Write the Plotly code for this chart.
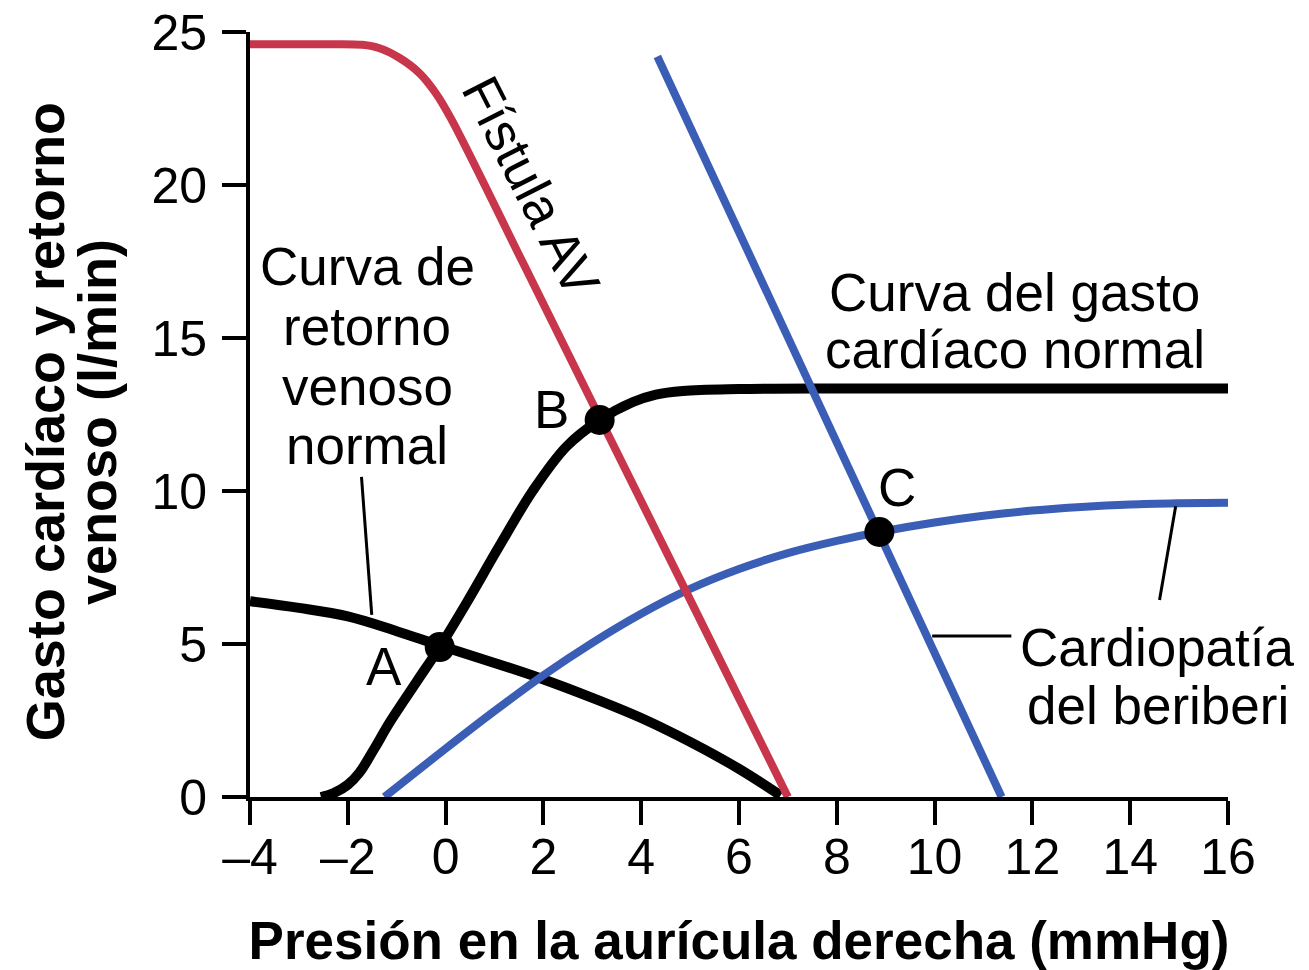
import plotly.graph_objects as go

# ---------------- data ----------------
x_ticks = [-4, -2, 0, 2, 4, 6, 8, 10, 12, 14, 16]
x_ticktext = ["–4", "–2", "0", "2", "4", "6", "8", "10", "12", "14", "16"]
y_ticks = [0, 5, 10, 15, 20, 25]

# Normal venous return curve
vr_norm_x = [-4, -3, -2, -1, -0.12, 1, 1.92, 3, 4, 5, 6, 6.85]
vr_norm_y = [6.4, 6.18, 5.9, 5.42, 4.95, 4.38, 3.89, 3.24, 2.58, 1.8, 0.92, 0.05]

# Normal cardiac output curve
co_norm_x = [-2.55, -2.3, -2.0, -1.76, -1.45, -1.15, -0.6, -0.12, 0.43, 1.1, 1.78,
             2.47, 3.15, 3.82, 4.3, 4.85, 6, 8, 12, 16]
co_norm_y = [0.0, 0.12, 0.4, 0.8, 1.6, 2.42, 3.75, 4.9, 6.35, 8.2, 10.0,
             11.45, 12.32, 12.9, 13.15, 13.27, 13.33, 13.35, 13.35, 13.35]

# AV fistula venous return curve
av_x = [-4, -2.5, -1.7, -1.35, -0.94, -0.53, -0.2, 0.1, 1.6, 3.15, 5.0, 7.0]
av_y = [24.6, 24.6, 24.58, 24.47, 24.15, 23.65, 23.0, 22.2, 17.4, 12.4, 6.45, 0]

# Beriberi cardiac output curve
co_beri_x = [-1.25, 0, 1, 2, 3, 4, 5, 6, 7, 8, 8.87, 10, 11, 12, 13, 14, 15, 16]
co_beri_y = [0, 1.58, 2.81, 3.98, 5.04, 5.99, 6.8, 7.45, 7.97, 8.37, 8.66, 8.97, 9.19,
             9.36, 9.48, 9.56, 9.6, 9.62]

# Beriberi venous return curve
vr_beri_x = [4.33, 11.37]
vr_beri_y = [24.2, 0]

# Equilibrium points A, B, C
pt_x = [-0.12, 3.15, 8.87]
pt_y = [4.9, 12.32, 8.66]
pt_labels = ["A", "B", "C"]
pt_label_x = [-1.25, 2.17, 9.24]
pt_label_y = [4.25, 12.65, 10.1]

# Text labels (one entry per line)
label_text = ["Curva de", "retorno", "venoso", "normal",
              "Curva del gasto", "cardíaco normal",
              "Cardiopatía", "del beriberi"]
label_x = [-1.6, -1.6, -1.6, -1.6, 11.64, 11.64, 14.56, 14.56]
label_y = [17.35, 15.39, 13.43, 11.5, 16.5, 14.64, 4.9, 3.0]

fistula_text = "Fístula AV"
fistula_x = 1.75
fistula_y = 19.95
fistula_angle = 63

# Leader lines: (x0, y0) -> (x1, y1)
leader_x0 = [-1.72, 14.6, 9.95]
leader_y0 = [10.46, 6.44, 5.26]
leader_x1 = [-1.51, 14.93, 11.57]
leader_y1 = [5.95, 9.5, 5.26]

x_title = "Presión en la aurícula derecha (mmHg)"
y_title_lines = ["Gasto cardíaco y retorno", "venoso (l/min)"]

# ---------------- style ----------------
FONT = "Liberation Sans, Arial, Helvetica, sans-serif"
RED = "#C8364C"
BLUE = "#3A5DB5"
BLACK = "#000000"

fig = go.Figure()

fig.add_trace(go.Scatter(x=vr_norm_x, y=vr_norm_y, mode="lines",
                         line=dict(color=BLACK, width=10, shape="spline", smoothing=1),
                         cliponaxis=False, hoverinfo="skip"))
fig.add_trace(go.Scatter(x=co_norm_x, y=co_norm_y, mode="lines",
                         line=dict(color=BLACK, width=10, shape="spline", smoothing=1),
                         cliponaxis=False, hoverinfo="skip"))
fig.add_trace(go.Scatter(x=co_beri_x, y=co_beri_y, mode="lines",
                         line=dict(color=BLUE, width=8, shape="spline", smoothing=1),
                         cliponaxis=False, hoverinfo="skip"))
fig.add_trace(go.Scatter(x=vr_beri_x, y=vr_beri_y, mode="lines",
                         line=dict(color=BLUE, width=8),
                         cliponaxis=False, hoverinfo="skip"))
fig.add_trace(go.Scatter(x=av_x, y=av_y, mode="lines",
                         line=dict(color=RED, width=8, shape="spline", smoothing=1),
                         cliponaxis=False, hoverinfo="skip"))
fig.add_trace(go.Scatter(x=pt_x, y=pt_y, mode="markers",
                         marker=dict(color=BLACK, size=30),
                         cliponaxis=False, hoverinfo="skip"))

for x0, y0, x1, y1 in zip(leader_x0, leader_y0, leader_x1, leader_y1):
    fig.add_shape(type="line", x0=x0, y0=y0, x1=x1, y1=y1, xref="x", yref="y",
                  line=dict(color=BLACK, width=3))

for t, x, y in zip(pt_labels, pt_label_x, pt_label_y):
    fig.add_annotation(x=x, y=y, text=t, showarrow=False, xanchor="center",
                       yanchor="middle", font=dict(family=FONT, size=53, color=BLACK))

for t, x, y in zip(label_text, label_x, label_y):
    fig.add_annotation(x=x, y=y, text=t, showarrow=False, xanchor="center",
                       yanchor="middle", font=dict(family=FONT, size=53, color=BLACK))

fig.add_annotation(x=fistula_x, y=fistula_y, text=fistula_text, showarrow=False,
                   textangle=fistula_angle, xanchor="center", yanchor="middle",
                   font=dict(family=FONT, size=53, color=BLACK))

# y axis title (two lines)
fig.add_annotation(xref="paper", yref="paper", x=-0.2096, y=0.49, text=y_title_lines[0],
                   showarrow=False, textangle=-90, xanchor="center", yanchor="middle",
                   font=dict(family=FONT, size=54, color=BLACK, weight="bold"))
fig.add_annotation(xref="paper", yref="paper", x=-0.1565, y=0.49, text=y_title_lines[1],
                   showarrow=False, textangle=-90, xanchor="center", yanchor="middle",
                   font=dict(family=FONT, size=54, color=BLACK, weight="bold"))

fig.update_layout(
    width=1309, height=970,
    margin=dict(l=250, r=81, t=32, b=173),
    paper_bgcolor="white", plot_bgcolor="white",
    showlegend=False,
    hovermode=False,
    font=dict(family=FONT, color=BLACK),
    xaxis=dict(range=[-4, 16], tickvals=x_ticks, ticktext=x_ticktext,
               showline=True, linewidth=4, linecolor=BLACK,
               ticks="outside", ticklen=24, tickwidth=4, tickcolor=BLACK,
               showgrid=False, zeroline=False, automargin=False,
               ticklabelstandoff=-11, ticklabeloverflow="allow",
               tickfont=dict(family=FONT, size=50, color=BLACK),
               title=dict(text=x_title, standoff=39,
                          font=dict(family=FONT, size=53, color=BLACK, weight="bold"))),
    yaxis=dict(range=[0, 25], tickvals=y_ticks,
               showline=True, linewidth=4, linecolor=BLACK,
               ticks="outside", ticklen=24, tickwidth=4, tickcolor=BLACK,
               showgrid=False, zeroline=False, automargin=False,
               ticklabelstandoff=5, ticklabeloverflow="allow",
               tickfont=dict(family=FONT, size=50, color=BLACK)),
)

fig.write_html("out.html", config={"displayModeBar": False},
               post_script="document.body.style.margin='0px';")
